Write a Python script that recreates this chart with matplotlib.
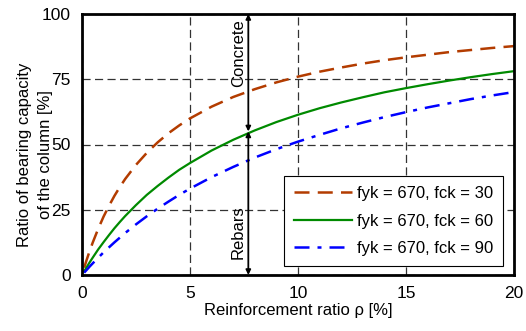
import matplotlib
matplotlib.use("Agg")
import matplotlib.pyplot as plt

plt.rcParams['font.family'] = ['Liberation Sans', 'DejaVu Sans']

rho = [0.1, 0.2, 0.35, 0.5, 0.75, 1, 1.25, 1.5, 1.75, 2, 2.5, 3, 3.5, 4, 4.5, 5, 6, 7, 8, 9,
       10, 11, 12, 13, 14, 15, 16, 17, 18, 19, 20]
fck30 = [2.8, 5.4, 9.1, 12.5, 17.7, 22.4, 26.5, 30.3, 33.7, 36.8, 42.2, 46.8, 50.8, 54.3, 57.3,
         60.0, 64.5, 68.2, 71.2, 73.8, 76.0, 77.9, 79.5, 81.0, 82.3, 83.4, 84.4, 85.4, 86.2,
         87.0, 87.7]
fck60 = [1.4, 2.8, 4.8, 6.7, 9.8, 12.6, 15.3, 17.9, 20.3, 22.6, 26.8, 30.7, 34.1, 37.3, 40.3,
         42.9, 47.7, 51.8, 55.4, 58.6, 61.4, 63.9, 66.1, 68.1, 70.0, 71.6, 73.1, 74.5, 75.8,
         77.0, 78.1]
fck90 = [0.9, 1.8, 3.2, 4.5, 6.6, 8.7, 10.6, 12.5, 14.3, 16.1, 19.4, 22.5, 25.4, 28.1, 30.7,
         33.1, 37.5, 41.4, 45.0, 48.2, 51.1, 53.7, 56.2, 58.4, 60.5, 62.4, 64.2, 65.8, 67.4,
         68.8, 70.1]
labels = ["fyk = 670, fck = 30", "fyk = 670, fck = 60", "fyk = 670, fck = 90"]
xticks = [0, 5, 10, 15, 20]
yticks = [0, 25, 50, 75, 100]
arrow_x = 7.7
arrow_split = 55

fig = plt.figure(figsize=(5.26, 3.31), dpi=100)
ax = fig.add_axes([82/526, 1-275/331, (514-82)/526, (275-14)/331])

ax.plot(rho, fck30, color='#b33c00', lw=1.8, dashes=(6, 3.3), label=labels[0])
ax.plot(rho, fck60, color='#008a00', lw=1.6, label=labels[1])
ax.plot(rho, fck90, color='#0000ff', lw=1.8, dashes=(6, 3.2, 1.6, 3.2), label=labels[2])

ax.set_xlim(0, 20)
ax.set_ylim(0, 100)
ax.set_xticks(xticks)
ax.set_yticks(yticks)
ax.tick_params(length=0, labelsize=12.5, pad=8)
ax.grid(True, color='#333333', lw=0.9, dashes=(6.5, 3.5))
for s in ax.spines.values():
    s.set_linewidth(2)

ax.set_xlabel("Reinforcement ratio ρ [%]", fontsize=12, labelpad=1)
ax.set_ylabel("Ratio of bearing capacity\nof the column [%]", fontsize=12, linespacing=1.45)
ax.yaxis.set_label_coords(-0.068, 0.46)

ap = dict(arrowstyle='<|-|>', color='black', lw=1.3, mutation_scale=7, shrinkA=0, shrinkB=0)
ax.annotate('', xy=(arrow_x, 0), xytext=(arrow_x, arrow_split), arrowprops=ap)
ax.annotate('', xy=(arrow_x, arrow_split), xytext=(arrow_x, 100), arrowprops=ap)
ax.text(arrow_x - 0.12, 85, "Concrete", rotation=90, ha='right', va='center', fontsize=12)
ax.text(arrow_x - 0.12, 16.5, "Rebars", rotation=90, ha='right', va='center', fontsize=12)

leg = ax.legend(loc='lower right', bbox_to_anchor=(0.975, 0.034), borderaxespad=0,
                fontsize=12, fancybox=False, edgecolor='black', framealpha=1,
                handlelength=3.5, handletextpad=0.3, borderpad=0.6, labelspacing=0.75)
leg.get_frame().set_linewidth(0.8)

fig.savefig("out.png", dpi=100)
